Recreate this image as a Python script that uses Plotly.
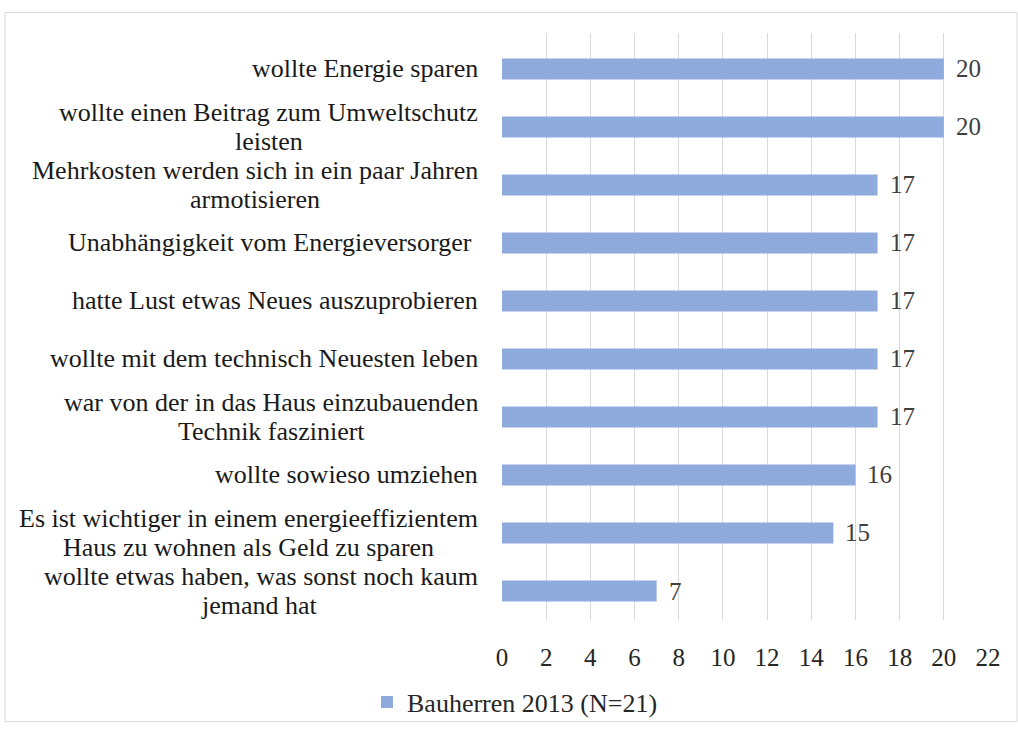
import plotly.graph_objects as go

categories = [
    "wollte Energie sparen",
    "wollte einen Beitrag zum Umweltschutz<br>leisten",
    "Mehrkosten werden sich in ein paar Jahren<br>armotisieren",
    "Unabhängigkeit vom Energieversorger ",
    "hatte Lust etwas Neues auszuprobieren",
    "wollte mit dem technisch Neuesten leben",
    "war von der in das Haus einzubauenden<br>Technik fasziniert",
    "wollte sowieso umziehen",
    "Es ist wichtiger in einem energieeffizientem<br>Haus zu wohnen als Geld zu sparen",
    "wollte etwas haben, was sonst noch kaum<br>jemand hat",
]
values = [20, 20, 17, 17, 17, 17, 17, 16, 15, 7]
series_name = "Bauherren 2013 (N=21)"
x_ticks = list(range(0, 23, 2))

FONT = "Liberation Serif"
BAR = "#8FAADC"
FS = 26
LINE_H = 29
RIGHT_SHIFT = -22

# approximate Times advance widths (1/1000 em) used only to centre wrapped lines
_W = {" ": 250, ",": 250, ".": 250, "-": 333, "(": 333, ")": 333, "=": 564,
      "A": 722, "B": 667, "C": 667, "D": 722, "E": 611, "F": 556, "G": 722,
      "H": 722, "I": 333, "J": 389, "K": 722, "L": 611, "M": 889, "N": 722,
      "O": 722, "P": 556, "Q": 722, "R": 667, "S": 556, "T": 611, "U": 722,
      "V": 722, "W": 944, "X": 722, "Y": 722, "Z": 611,
      "a": 444, "b": 500, "c": 444, "d": 500, "e": 444, "f": 333, "g": 500,
      "h": 500, "i": 278, "j": 278, "k": 500, "l": 278, "m": 778, "n": 500,
      "o": 500, "p": 500, "q": 500, "r": 333, "s": 389, "t": 278, "u": 500,
      "v": 500, "w": 722, "x": 500, "y": 500, "z": 444, "ä": 444, "ö": 500,
      "ü": 500}

def text_w(s):
    return sum(_W.get(ch, 500) for ch in s) * FS / 1000.0

W, H = 1018, 738
L, R, T, B = 502, 30, 33, 105
pw, ph = W - L - R, H - T - B

def px_x(p):
    return (p - L) / pw

def px_y(p):
    return (H - B - p) / ph

fig = go.Figure()
fig.add_trace(go.Bar(
    x=values, y=categories, orientation="h",
    marker=dict(color=BAR, line=dict(width=0)),
    name=series_name, showlegend=True, width=0.365,
))

annotations = []
for c, v in zip(categories, values):
    lines = c.split("<br>")
    n = len(lines)
    maxw = max(text_w(s) for s in lines)
    for i, line in enumerate(lines):
        annotations.append(dict(
            x=0, xref="paper", y=c, yref="y", text=line, showarrow=False,
            xanchor="right", yanchor="middle",
            xshift=RIGHT_SHIFT - (maxw - text_w(line)) / 2,
            yshift=((n - 1) / 2 - i) * LINE_H,
            font=dict(family=FONT, size=FS, color="#1a1a1a"),
        ))
    annotations.append(dict(
        x=v, xref="x", y=c, yref="y", text=str(v), showarrow=False,
        xanchor="left", yanchor="middle", xshift=10,
        font=dict(family=FONT, size=FS - 1, color="#404040"),
    ))

fig.update_layout(
    width=W, height=H,
    margin=dict(l=L, r=R, t=T, b=B),
    paper_bgcolor="white", plot_bgcolor="white",
    font=dict(family=FONT, size=FS, color="#262626"),
    xaxis=dict(range=[0, 22], tickvals=x_ticks, showgrid=True,
               gridcolor="#D9D9D9", gridwidth=1, zeroline=False,
               showline=False, ticks="", ticklen=0, ticklabelstandoff=20,
               tickfont=dict(family=FONT, size=FS - 1, color="#262626")),
    yaxis=dict(range=[9.5, -0.62], showticklabels=False, showgrid=False,
               zeroline=False, showline=False, ticks=""),
    legend=dict(orientation="h", x=px_x(367), xanchor="left",
                y=px_y(693), yanchor="top",
                font=dict(family=FONT, size=FS, color="#262626"),
                bgcolor="rgba(0,0,0,0)"),
    annotations=annotations,
    shapes=[dict(type="rect", xref="paper", yref="paper",
                 x0=px_x(5), x1=px_x(1017), y0=px_y(737), y1=px_y(12),
                 line=dict(color="#D9D9D9", width=1), layer="below")],
)

fig.write_html("out.html")
